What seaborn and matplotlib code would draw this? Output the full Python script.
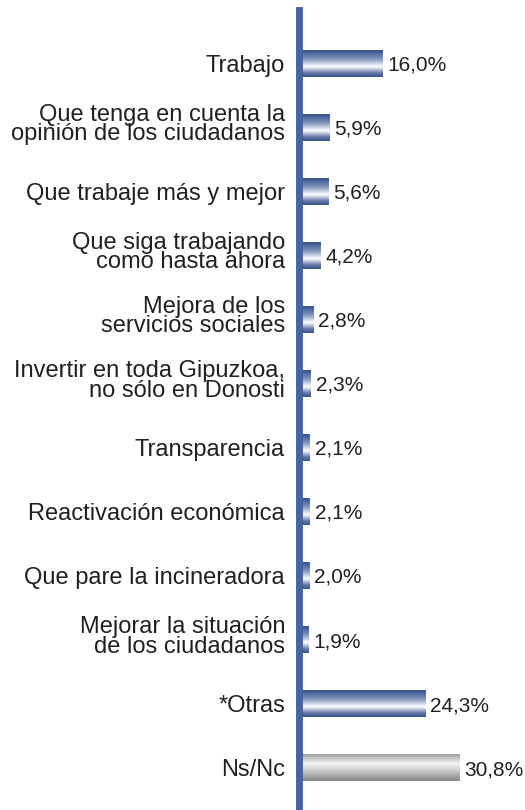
import numpy as np
import pandas as pd
import matplotlib
matplotlib.use("Agg")
import matplotlib.pyplot as plt
import matplotlib.transforms as mtransforms
import seaborn as sns
from matplotlib.colors import LinearSegmentedColormap

categories = [
    "Trabajo",
    "Que tenga en cuenta la\nopinión de los ciudadanos",
    "Que trabaje más y mejor",
    "Que siga trabajando\ncomo hasta ahora",
    "Mejora de los\nservicios sociales",
    "Invertir en toda Gipuzkoa,\nno sólo en Donosti",
    "Transparencia",
    "Reactivación económica",
    "Que pare la incineradora",
    "Mejorar la situación\nde los ciudadanos",
    "*Otras",
    "Ns/Nc",
]
values = [16.0, 5.9, 5.6, 4.2, 2.8, 2.3, 2.1, 2.1, 2.0, 1.9, 24.3, 30.8]
groups = ["main"] * 11 + ["nsnc"]

sns.set_style("white")
plt.rcParams["font.family"] = ["Liberation Sans", "DejaVu Sans"]

df = pd.DataFrame({"cat": categories, "val": values, "grp": groups})

fig = plt.figure(figsize=(5.25, 8.1), dpi=100)
ax = fig.add_axes([299 / 525, 0.0, 185 / 525, 1 - 10 / 810])

sns.barplot(data=df, x="val", y="cat", hue="grp", orient="h",
            palette={"main": "#3c5488", "nsnc": "#8c8c8c"},
            width=0.42, dodge=False, legend=False, ax=ax)

cmaps = {
    "main": LinearSegmentedColormap.from_list(
        "b", [(0.0, "#37518c"), (0.3, "#7a8fbb"), (0.62, "#ffffff"),
              (0.85, "#6479aa"), (1.0, "#37518c")]),
    "nsnc": LinearSegmentedColormap.from_list(
        "g", [(0.0, "#a0a0a0"), (0.35, "#f6f6f6"), (0.55, "#d6d6d6"),
              (1.0, "#878787")]),
}
gvec = np.linspace(0, 1, 64).reshape(-1, 1)
for patch, grp in zip(ax.patches, groups):
    bb = patch.get_bbox()
    x0, x1 = bb.x0, bb.x1
    ytop, ybot = min(bb.y0, bb.y1), max(bb.y0, bb.y1)
    ax.imshow(gvec, cmap=cmaps[grp], aspect="auto", origin="upper",
              extent=[x0, x1, ybot, ytop], zorder=2, interpolation="bilinear")
    patch.set_facecolor("none")
    patch.set_edgecolor("none")

for i, v in enumerate(values):
    ax.text(v + 0.95, i + 0.03, f"{v:.1f}".replace(".", ",") + "%",
            va="center", ha="left", fontsize=15, color="#231f20")

ax.set_xlim(0, 35.6)
ax.set_ylim(11.66, -0.83)
ax.set_xlabel("")
ax.set_ylabel("")
ax.set_xticks([])
ax.tick_params(axis="y", length=0, pad=10, labelcolor="#231f20")
up = mtransforms.ScaledTranslation(0, 4 / 100, fig.dpi_scale_trans)
for lbl in ax.get_yticklabels():
    lbl.set_fontsize(17)
    lbl.set_linespacing(0.86)
    if "\n" in lbl.get_text():
        lbl.set_transform(lbl.get_transform() + up)
for s in ["top", "right", "bottom"]:
    ax.spines[s].set_visible(False)
ax.spines["left"].set_color("#4466a0")
ax.spines["left"].set_linewidth(5.0)
ax.spines["left"].set_zorder(5)
ax.patch.set_alpha(0)

fig.savefig("out.png", dpi=100, facecolor="white")
